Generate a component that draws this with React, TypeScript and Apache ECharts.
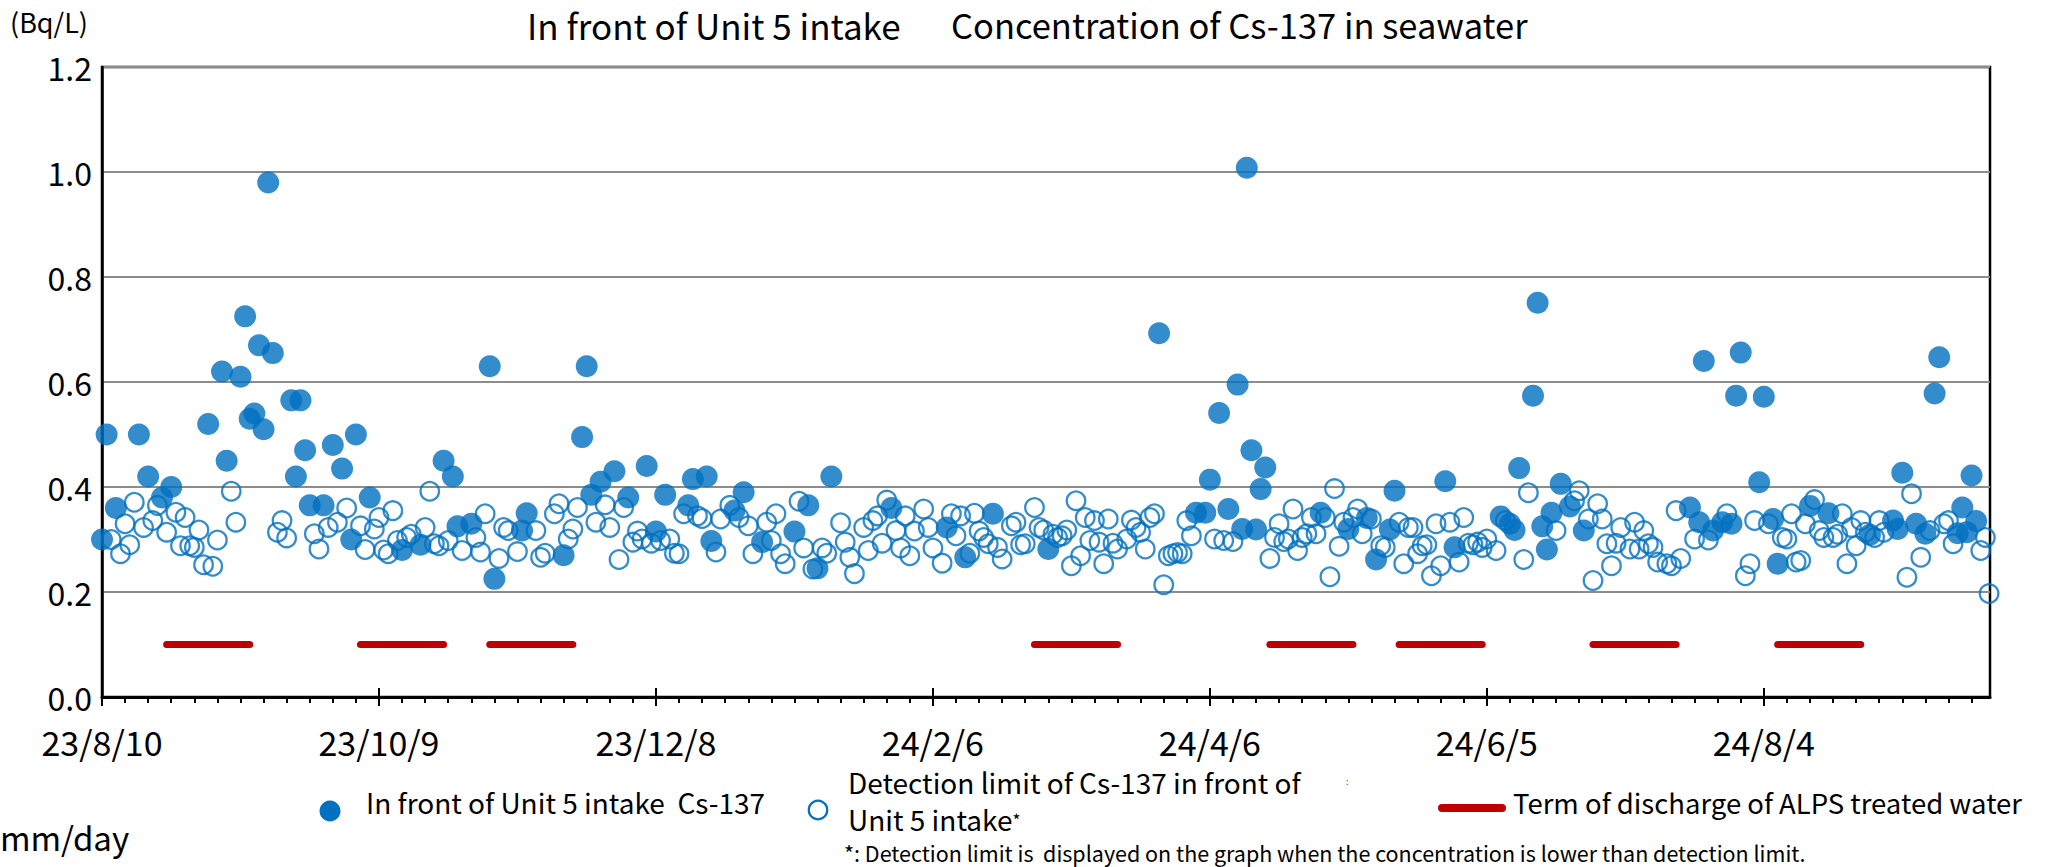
import React, { useEffect, useRef } from "react";
import * as echarts from "echarts";

// Day offsets are counted from 2023-08-10 (day 0).
const START = Date.UTC(2023, 7, 10);
const DAY_MS = 86400000;
const AXIS_MAX_DAY = 409;
const MAJOR_STEP = 60;
const MINOR_STEP = 5;

// Cs-137 detected (filled markers)
const detectedDays = [
  0, 1, 3, 8, 10, 13, 15, 23, 26, 27,
  30, 31, 32, 33, 34, 35, 36, 37, 41, 42,
  43, 44, 45, 48, 50, 52, 54, 55, 58, 65,
  69, 74, 76, 77, 80, 84, 85, 91, 92, 100,
  104, 105, 106, 108, 111, 114, 118, 120, 122, 127,
  128, 131, 132, 137, 139, 143, 150, 153, 155, 158,
  171, 183, 187, 193, 205, 229, 237, 239, 240, 242,
  244, 246, 247, 248, 249, 250, 251, 252, 264, 270,
  274, 276, 279, 280, 291, 293, 303, 305, 306, 307,
  310, 311, 312, 313, 314, 316, 318, 321, 344, 346,
  347, 349, 351, 353, 354, 355, 359, 360, 362, 363,
  370, 374, 383, 388, 389, 390, 393, 395, 397, 398,
  402, 403, 404, 405, 406,
];
const detectedValues = [
  0.3, 0.5, 0.36, 0.5, 0.42, 0.38, 0.4, 0.52, 0.62, 0.45,
  0.61, 0.725, 0.53, 0.54, 0.67, 0.51, 0.98, 0.655, 0.565, 0.42,
  0.565, 0.47, 0.365, 0.365, 0.48, 0.435, 0.3, 0.5, 0.38, 0.28,
  0.29, 0.45, 0.42, 0.325, 0.33, 0.63, 0.225, 0.317, 0.35, 0.27,
  0.495, 0.63, 0.385, 0.41, 0.43, 0.38, 0.44, 0.315, 0.385, 0.365,
  0.415, 0.42, 0.297, 0.355, 0.39, 0.295, 0.315, 0.365, 0.245, 0.42,
  0.36, 0.323, 0.266, 0.349, 0.282, 0.693, 0.351, 0.351, 0.414, 0.541,
  0.358, 0.595, 0.32, 1.008, 0.47, 0.319, 0.396, 0.437, 0.351, 0.32,
  0.341, 0.262, 0.319, 0.393, 0.411, 0.285, 0.344, 0.33, 0.318, 0.436,
  0.574, 0.751, 0.325, 0.281, 0.351, 0.406, 0.363, 0.317, 0.361, 0.333,
  0.64, 0.317, 0.333, 0.33, 0.574, 0.656, 0.409, 0.572, 0.339, 0.254,
  0.364, 0.35, 0.309, 0.336, 0.32, 0.427, 0.33, 0.311, 0.578, 0.647,
  0.312, 0.361, 0.314, 0.422, 0.335,
];

// Detection limit (open markers), shown when below detection limit
const limitDays = [
  2, 4, 5, 6, 7, 9, 11, 12, 14, 16, 17, 18, 19, 20, 21, 22, 24, 25, 28, 29,
  38, 39, 40, 46, 47, 49, 51, 53, 56, 57, 59, 60, 61, 62, 63, 64, 66, 67, 70, 71,
  72, 73, 75, 78, 81, 82, 83, 86, 87, 88, 90, 94, 95, 96, 98, 99, 101, 102, 103, 107,
  109, 110, 112, 113, 115, 116, 117, 119, 121, 123, 124, 125, 126, 129, 130, 133, 134, 136, 138, 140,
  141, 144, 145, 146, 147, 148, 151, 152, 154, 156, 157, 160, 161, 162, 163, 165, 166, 167, 168, 169,
  170, 172, 173, 174, 175, 176, 178, 179, 180, 182, 184, 185, 186, 188, 189, 190, 191, 192, 194, 195,
  197, 198, 199, 200, 202, 203, 204, 206, 207, 208, 209, 210, 211, 212, 213, 214, 215, 216, 217, 218,
  219, 220, 222, 223, 224, 225, 226, 227, 228, 230, 231, 232, 233, 234, 235, 236, 241, 243, 245, 253,
  254, 255, 256, 257, 258, 259, 260, 261, 262, 263, 265, 266, 267, 268, 269, 271, 272, 273, 275, 277,
  278, 281, 282, 283, 284, 285, 286, 287, 288, 289, 290, 292, 294, 295, 296, 297, 298, 299, 300, 302,
  304, 308, 309, 315, 319, 320, 322, 323, 324, 325, 326, 327, 328, 329, 331, 332, 333, 334, 335, 336,
  337, 339, 340, 341, 342, 345, 348, 352, 356, 357, 358, 361, 364, 365, 366, 367, 368, 369, 371, 372,
  373, 375, 376, 377, 378, 379, 380, 381, 382, 384, 385, 386, 391, 392, 394, 396, 399, 400, 401, 407,
  408, 408.8,
];
const limitValues = [
  0.3, 0.273, 0.33, 0.29, 0.371, 0.323, 0.336, 0.365, 0.314, 0.352, 0.288, 0.342, 0.288, 0.285, 0.318, 0.252, 0.249, 0.299, 0.392, 0.333,
  0.314, 0.336, 0.303, 0.311, 0.282, 0.323, 0.333, 0.36, 0.326, 0.281, 0.32, 0.342, 0.28, 0.273, 0.355, 0.298, 0.304, 0.31, 0.323, 0.392,
  0.292, 0.288, 0.298, 0.279, 0.304, 0.276, 0.349, 0.264, 0.323, 0.317, 0.277, 0.317, 0.266, 0.274, 0.349, 0.368, 0.301, 0.32, 0.361, 0.333,
  0.366, 0.323, 0.262, 0.361, 0.295, 0.316, 0.301, 0.293, 0.298, 0.301, 0.274, 0.273, 0.349, 0.345, 0.34, 0.276, 0.339, 0.365, 0.342, 0.326,
  0.273, 0.333, 0.298, 0.349, 0.273, 0.254, 0.373, 0.284, 0.244, 0.284, 0.274, 0.332, 0.295, 0.266, 0.235, 0.323, 0.279, 0.336, 0.345, 0.293,
  0.375, 0.317, 0.284, 0.345, 0.269, 0.316, 0.358, 0.323, 0.284, 0.255, 0.349, 0.307, 0.345, 0.274, 0.35, 0.316, 0.304, 0.292, 0.285, 0.263,
  0.326, 0.333, 0.29, 0.292, 0.361, 0.323, 0.318, 0.31, 0.304, 0.307, 0.318, 0.25, 0.374, 0.269, 0.342, 0.298, 0.336, 0.295, 0.254, 0.339,
  0.293, 0.282, 0.301, 0.337, 0.323, 0.314, 0.282, 0.342, 0.349, 0.214, 0.269, 0.273, 0.275, 0.273, 0.336, 0.307, 0.301, 0.298, 0.296, 0.264,
  0.304, 0.33, 0.296, 0.301, 0.358, 0.279, 0.304, 0.311, 0.342, 0.311, 0.342, 0.229, 0.397, 0.287, 0.333, 0.342, 0.358, 0.311, 0.339, 0.288,
  0.285, 0.333, 0.254, 0.323, 0.323, 0.273, 0.288, 0.29, 0.231, 0.33, 0.25, 0.333, 0.257, 0.342, 0.293, 0.29, 0.295, 0.285, 0.301, 0.279,
  0.336, 0.262, 0.389, 0.317, 0.374, 0.393, 0.339, 0.222, 0.368, 0.339, 0.292, 0.25, 0.293, 0.323, 0.282, 0.333, 0.282, 0.317, 0.292, 0.285,
  0.257, 0.254, 0.25, 0.355, 0.264, 0.301, 0.299, 0.349, 0.231, 0.254, 0.336, 0.33, 0.304, 0.301, 0.349, 0.257, 0.26, 0.33, 0.376, 0.317,
  0.304, 0.304, 0.31, 0.349, 0.254, 0.323, 0.288, 0.336, 0.314, 0.304, 0.336, 0.314, 0.228, 0.387, 0.266, 0.317, 0.33, 0.336, 0.292, 0.279,
  0.304, 0.197,
];

// Terms of discharge of ALPS treated water
const dischargeStart = ["2023-08-24", "2023-10-05", "2023-11-02", "2024-02-28", "2024-04-19", "2024-05-17", "2024-06-28", "2024-08-07"];
const dischargeEnd = ["2023-09-11", "2023-10-23", "2023-11-20", "2024-03-17", "2024-05-07", "2024-06-04", "2024-07-16", "2024-08-25"];
const DISCHARGE_LEVEL = 0.1;

const Y_MIN = 0;
const Y_MAX = 1.2;
const Y_STEP = 0.2;

const BLUE = "#0070C0";
const RED = "#C00000";
const FONT = '"Noto Sans CJK JP", "Noto Sans", sans-serif';

function dayOf(s: string): number {
  const [y, m, d] = s.split("-").map(Number);
  return Math.round((Date.UTC(y, m - 1, d) - START) / DAY_MS);
}

function fmtDay(day: number): string {
  const dt = new Date(START + day * DAY_MS);
  return `${String(dt.getUTCFullYear()).slice(2)}/${dt.getUTCMonth() + 1}/${dt.getUTCDate()}`;
}

export default function App() {
  const ref = useRef<HTMLDivElement>(null);

  useEffect(() => {
    if (!ref.current) return;
    const chart = echarts.init(ref.current, undefined, { renderer: "svg" });

    const majorTicks: number[] = [];
    for (let d = 0; d <= AXIS_MAX_DAY; d += MAJOR_STEP) majorTicks.push(d);
    const minorTicks: number[] = [];
    for (let d = 0; d <= AXIS_MAX_DAY; d += MINOR_STEP) minorTicks.push(d);

    const baseX = {
      type: "value",
      min: 0,
      max: AXIS_MAX_DAY,
      position: "bottom",
      splitLine: { show: false },
    };

    const dischargeSeries = dischargeStart.map((s, i) => ({
      type: "line",
      name: "Term of discharge of ALPS treated water",
      data: [
        [dayOf(s), DISCHARGE_LEVEL],
        [dayOf(dischargeEnd[i]), DISCHARGE_LEVEL],
      ],
      symbol: "none",
      silent: true,
      lineStyle: { color: RED, width: 7, cap: "round" },
      z: 2,
    }));

    const option: any = {
      animation: false,
      grid: {
        left: 102,
        top: 67,
        width: 1888,
        height: 630,
        show: true,
        borderColor: "#000",
        borderWidth: 2.5,
        backgroundColor: "transparent",
      },
      xAxis: [
        {
          ...baseX,
          interval: MAJOR_STEP,
          axisLine: { show: true, lineStyle: { color: "#000", width: 3 } },
          axisTick: { show: true, inside: false, length: 9, lineStyle: { color: "#000", width: 2 }, customValues: majorTicks },
          axisLabel: {
            show: true,
            fontSize: 34,
            color: "#000",
            fontFamily: FONT,
            margin: 27,
            customValues: majorTicks,
            formatter: (v: number) => fmtDay(v),
          },
        },
        {
          ...baseX,
          interval: MINOR_STEP,
          axisLine: { show: false },
          axisTick: { show: true, inside: false, length: 6, lineStyle: { color: "#000", width: 2 }, customValues: minorTicks },
          axisLabel: { show: false },
        },
        {
          ...baseX,
          interval: MAJOR_STEP,
          axisLine: { show: false },
          axisTick: { show: true, inside: true, length: 9, lineStyle: { color: "#000", width: 2 }, customValues: majorTicks },
          axisLabel: { show: false },
        },
      ],
      yAxis: {
        type: "value",
        min: Y_MIN,
        max: Y_MAX,
        interval: Y_STEP,
        axisLine: { show: true, lineStyle: { color: "#000", width: 2.5 } },
        axisTick: { show: false },
        axisLabel: {
          fontSize: 32,
          color: "#000",
          fontFamily: FONT,
          margin: 10,
          formatter: (v: number) => v.toFixed(1),
        },
        splitLine: { show: true, lineStyle: { color: "#8c8c8c", width: 2 } },
      },
      series: [
        {
          type: "scatter",
          name: "Detection limit of Cs-137 in front of Unit 5 intake",
          data: limitDays.map((d, i) => [d, limitValues[i]]),
          symbol: "circle",
          symbolSize: 18.5,
          itemStyle: { color: "rgba(255,255,255,0)", borderColor: BLUE, borderWidth: 2.3 },
          silent: true,
          z: 3,
        },
        {
          type: "scatter",
          name: "In front of Unit 5 intake Cs-137",
          data: detectedDays.map((d, i) => [d, detectedValues[i]]),
          symbol: "circle",
          symbolSize: 22,
          itemStyle: { color: BLUE },
          silent: true,
          z: 4,
        },
        ...dischargeSeries,
      ],
      graphic: [
        { type: "text", x: 10, y: 21, style: { text: "(Bq/L)", fontSize: 27, fill: "#000", fontFamily: FONT, verticalAlign: "middle" } },
        { type: "text", x: 527, y: 24, style: { text: "In front of Unit 5 intake", fontSize: 35, fill: "#000", fontFamily: FONT, verticalAlign: "middle" } },
        { type: "text", x: 951, y: 24, style: { text: "Concentration of Cs-137 in seawater", fontSize: 34.5, fill: "#000", fontFamily: FONT, verticalAlign: "middle" } },
        { type: "circle", shape: { cx: 330, cy: 811, r: 10.5 }, style: { fill: BLUE } },
        { type: "text", x: 366, y: 802, style: { text: "In front of Unit 5 intake  Cs-137", fontSize: 28, fill: "#000", fontFamily: FONT, verticalAlign: "middle" } },
        { type: "circle", shape: { cx: 818, cy: 810, r: 9.2 }, style: { fill: "none", stroke: BLUE, lineWidth: 2.3 } },
        {
          type: "text",
          x: 848,
          y: 800.5,
          style: {
            text: "Detection limit of Cs-137 in front of\nUnit 5 intake{s|*}",
            fontSize: 28,
            lineHeight: 37,
            fill: "#000",
            fontFamily: FONT,
            verticalAlign: "middle",
            rich: { s: { fontSize: 17, lineHeight: 37, verticalAlign: "middle", fill: "#000", fontFamily: FONT } },
          },
        },
        { type: "text", x: 1346, y: 781, style: { text: ":", fontSize: 9, fill: "#555", fontFamily: FONT, verticalAlign: "middle" } },
        { type: "line", shape: { x1: 1442, y1: 808, x2: 1502, y2: 808 }, style: { stroke: RED, lineWidth: 8, lineCap: "round" } },
        { type: "text", x: 1513, y: 802, style: { text: "Term of discharge of ALPS treated water", fontSize: 27.5, fill: "#000", fontFamily: FONT, verticalAlign: "middle" } },
        { type: "text", x: 844, y: 852, style: { text: "*: Detection limit is  displayed on the graph when the concentration is lower than detection limit.", fontSize: 21.5, fill: "#000", fontFamily: FONT, verticalAlign: "middle" } },
        { type: "text", x: 0, y: 837, style: { text: "mm/day", fontSize: 33, fill: "#000", fontFamily: FONT, verticalAlign: "middle" } },
      ],
    };

    chart.setOption(option);
    return () => chart.dispose();
  }, []);

  return (
    <div
      ref={ref}
      style={{ position: "absolute", left: 0, top: 0, width: 2051, height: 867, background: "#fff" }}
    />
  );
}
